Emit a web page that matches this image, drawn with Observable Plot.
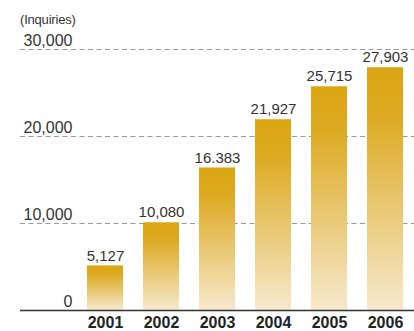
<!DOCTYPE html>
<html>
<head>
<meta charset="utf-8">
<script src="https://cdn.jsdelivr.net/npm/d3@7"></script>
<script src="https://cdn.jsdelivr.net/npm/@observablehq/plot@0.6"></script>
<style>
  html, body { margin: 0; padding: 0; background: #fff; }
  #chart { position: relative; width: 414px; height: 331px; font-family: "Liberation Sans", Arial, Helvetica, sans-serif; }
  #unit { position: absolute; left: 20px; top: 12px; font-size: 13px; color: #333; letter-spacing: -0.2px; }
  #chart svg { display: block; }
</style>
</head>
<body>
<div id="chart"><div id="unit">(Inquiries)</div></div>
<script>
const years = ["2001", "2002", "2003", "2004", "2005", "2006"];
const inquiries = [5127, 10080, 16383, 21927, 25715, 27903];
const valueLabels = ["5,127", "10,080", "16.383", "21,927", "25,715", "27,903"];
const yTicks = [0, 10000, 20000, 30000];
const yTickLabels = ["0", "10,000", "20,000", "30,000"];

const data = years.map((y, i) => ({year: y, value: inquiries[i], label: valueLabels[i]}));
const ticks = yTicks.map((v, i) => ({v, label: yTickLabels[i]}));

const defs = () => {
  const d = d3.create("svg:defs");
  const g = d.append("linearGradient").attr("id", "barGrad")
    .attr("x1", 0).attr("y1", 0).attr("x2", 0).attr("y2", 1);
  g.append("stop").attr("offset", "0%").attr("stop-color", "#DBA612");
  g.append("stop").attr("offset", "20%").attr("stop-color", "#DDAA22");
  g.append("stop").attr("offset", "100%").attr("stop-color", "#F7E9CE");
  return d.node();
};

const chart = Plot.plot({
  width: 414,
  height: 331,
  marginLeft: 20,
  marginRight: 0,
  marginTop: 0,
  marginBottom: 21,
  style: {fontFamily: '"Liberation Sans", Arial, Helvetica, sans-serif', color: "#333", background: "transparent"},
  x: {domain: years, range: [80, 410], paddingInner: 0.35, paddingOuter: 0.07, label: null},
  y: {domain: [0, 30000], range: [310, 49], label: null, axis: null},
  marks: [
    defs,
    Plot.ruleY(yTicks.filter(v => v > 0), {stroke: "#9a9a9a", strokeDasharray: "5,3.5", strokeWidth: 1}),
    Plot.barY(data, {x: "year", y: "value", fill: "url(#barGrad)"}),
    Plot.ruleY([0], {stroke: "#333", strokeWidth: 1.5}),
    Plot.text(ticks, {y: "v", text: "label", frameAnchor: "left", dx: 52, dy: -8.6, textAnchor: "end", fontSize: 16, fill: "#333"}),
    Plot.text(data, {x: "year", y: "value", text: "label", dy: -10.2, fontSize: 15, fill: "#333"}),
    Plot.axisX({tickSize: 0, tickPadding: 6, fontSize: 16, fontWeight: "bold", fill: "#222", label: null})
  ]
});
document.getElementById("chart").appendChild(chart);
</script>
</body>
</html>
